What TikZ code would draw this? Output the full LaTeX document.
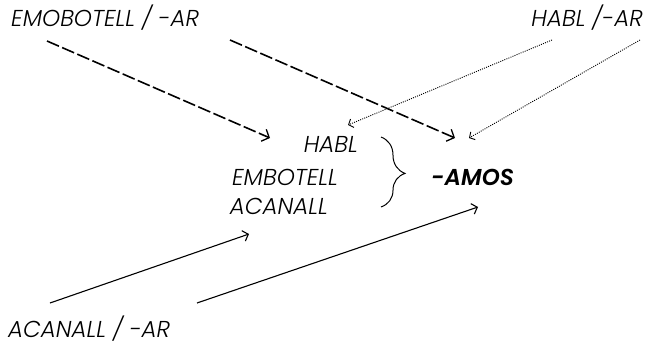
\documentclass[tikz,border=0pt]{standalone}
\usepackage{fontspec}
\setmainfont{Poppins}[UprightFont=* Light, ItalicFont=* Light Italic, BoldItalicFont=* SemiBold Italic]
\usetikzlibrary{arrows.meta,decorations.pathreplacing}
\begin{document}
\begin{tikzpicture}[x=1pt,y=-1pt,
  lbl/.style={inner sep=0pt, font=\itshape\fontsize{23}{26}\selectfont},
  suffix/.style={inner sep=0pt, font=\bfseries\itshape\fontsize{23}{26}\selectfont},
  longdash/.style={line width=1.6pt, dash pattern=on 13pt off 3.5pt,
    -{Straight Barb[length=6pt,width=13pt,line width=1.3pt]}},
  dotarrow/.style={line width=0.9pt, dash pattern=on 1pt off 1.2pt,
    -{Straight Barb[length=4pt,width=9pt,line width=0.9pt]}},
  solidarrow/.style={line width=1.1pt,
    -{Straight Barb[length=5pt,width=11pt,line width=1.1pt]}}]
\useasboundingbox (0,0) rectangle (658,345);

% source words
\node[lbl, anchor=base west] (src1) at (11,27) {EMOBOTELL / -AR};
\node[lbl, anchor=base east] (src2) at (643,27) {HABL /-AR};
\node[lbl, anchor=base west] (src3) at (8,337) {ACANALL / -AR};

% stems and suffix
\node[lbl, anchor=base east] (habl) at (358,152) {HABL};
\node[lbl, anchor=base east] (embo) at (338,185) {EMBOTELL};
\node[lbl, anchor=base east] (acan) at (328,214) {ACANALL};
\node[suffix, anchor=base west] (amos) at (431,185) {-AMOS};

% brace grouping the stems
\coordinate (bt) at (381,137);
\coordinate (bb) at (381,207);
\draw[line width=1pt, decoration={brace, amplitude=24pt, aspect=0.52}, decorate] (bt) -- (bb);

% arrow end points
\coordinate (e1s) at (47,41);   \coordinate (e1t) at (270,138);
\coordinate (e2s) at (230,40);  \coordinate (e2t) at (455,138);
\coordinate (h1s) at (552,40);  \coordinate (h1t) at (348,125);
\coordinate (h2s) at (640,40);  \coordinate (h2t) at (469,138);
\coordinate (a1s) at (50,303);  \coordinate (a1t) at (249,234);
\coordinate (a2s) at (197,303); \coordinate (a2t) at (478,207);

\draw[longdash] (e1s) -- (e1t);
\draw[longdash] (e2s) -- (e2t);
\draw[dotarrow] (h1s) -- (h1t);
\draw[dotarrow] (h2s) -- (h2t);
\draw[solidarrow] (a1s) -- (a1t);
\draw[solidarrow] (a2s) -- (a2t);
\end{tikzpicture}
\end{document}
